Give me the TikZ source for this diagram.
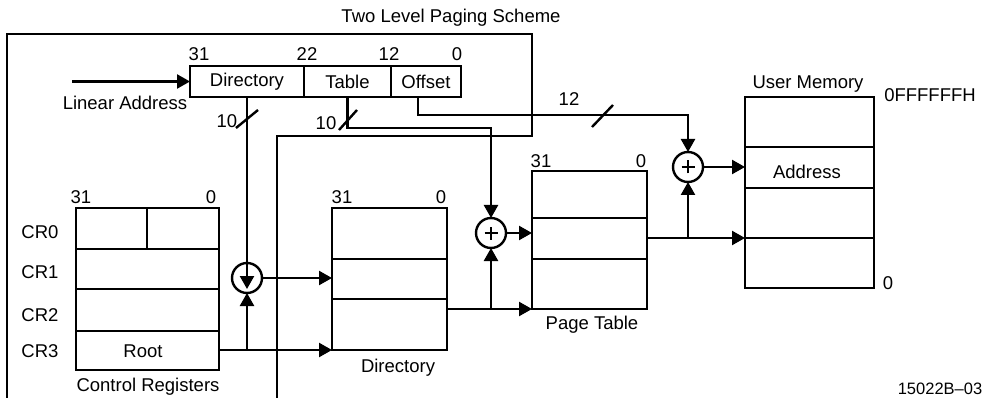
\documentclass[tikz,border=0pt]{standalone}
\usepackage{fontspec}
\setmainfont{Liberation Sans}
\usetikzlibrary{arrows.meta}
\begin{document}
\begin{tikzpicture}[x=1pt,y=-1pt,line width=2.4pt,
  every node/.style={font=\fontsize{18.5}{20}\selectfont,inner sep=0pt,outer sep=0pt},
  arr/.style={-{Triangle[length=13pt,width=14pt]}},
  box/.style={draw,minimum width=#1},
  adder/.style={draw,circle,minimum size=30pt},
  plus/.style={line width=1.9pt}]
\useasboundingbox (0,0) rectangle (982,398);
\fill[white] (0,0) rectangle (982,398);

% frame
\draw (7,398) -- (7,34) -- (532,34) -- (532,136) -- (277,136) -- (277,398);
\node at (451,18) {Two Level Paging Scheme};

% linear address fields
\node[box=114,minimum height=31pt] (dirf) at (247,81.5) {Directory};
\node[box=87,minimum height=31pt] (tabf) at (347.5,81.5) {Table};
\node[box=70,minimum height=31pt] (offf) at (426,81.5) {Offset};
\node at (199,54) {31};
\node at (307,54) {22};
\node at (389,54) {12};
\node at (457,54) {0};
\coordinate (la) at (72,81.5);
\draw[arr] (la) -- (dirf.west);
\node at (125,103) {Linear Address};

% control registers
\node[box=143,minimum height=162pt] (cr) at (147.5,289) {};
\draw (cr.west |- 0,249) -- (cr.east |- 0,249);
\draw (cr.west |- 0,289) -- (cr.east |- 0,289);
\draw (cr.west |- 0,331) -- (cr.east |- 0,331);
\draw (147,208) -- (147,249);
\node at (81,197) {31};
\node at (211,197) {0};
\node at (40,232) {CR0};
\node at (40,272) {CR1};
\node at (40,315) {CR2};
\node at (40,351) {CR3};
\node at (143,351) {Root};
\node at (148,387) {Control Registers};

% directory
\node[box=115,minimum height=142pt] (dir) at (389.5,279) {};
\draw (dir.west |- 0,259) -- (dir.east |- 0,259);
\draw (dir.west |- 0,299) -- (dir.east |- 0,299);
\node at (342,197) {31};
\node at (441,197) {0};
\node at (398,368) {Directory};

% page table
\node[box=115,minimum height=138pt] (pt) at (589.5,240) {};
\draw (pt.west |- 0,218) -- (pt.east |- 0,218);
\draw (pt.west |- 0,259) -- (pt.east |- 0,259);
\node at (541,161) {31};
\node at (641,161) {0};
\node at (592,325) {Page Table};

% user memory
\node[box=129,minimum height=191pt] (um) at (809.5,192.5) {};
\draw (um.west |- 0,147) -- (um.east |- 0,147);
\draw (um.west |- 0,188) -- (um.east |- 0,188);
\coordinate (umrow) at (745,238);
\draw (um.west |- 0,238) -- (um.east |- 0,238);
\node at (807,172) {Address};
\node at (808,84) {User Memory};
\node at (930,95) {0FFFFFFH};
\node at (888,283) {0};
\node[font=\fontsize{16.5}{18}\selectfont] at (940,389) {15022B--03};

% adders
\node[adder] (c1) at (247,278) {};
\node[adder] (c2) at (491,233) {};
\node[adder] (c3) at (688,167) {};
\draw[plus] ([xshift=-6.5pt]c2.center) -- ([xshift=6.5pt]c2.center);
\draw[plus] ([yshift=-6.5pt]c2.center) -- ([yshift=6.5pt]c2.center);
\draw[plus] ([xshift=-6.5pt]c3.center) -- ([xshift=6.5pt]c3.center);
\draw[plus] ([yshift=-6.5pt]c3.center) -- ([yshift=6.5pt]c3.center);

% connectors
\draw[arr] (dirf.south) -- ([yshift=-11pt]c1.center);
\draw[arr] (cr.east |- dir.south) -- (dir.south west);
\draw[arr] (c1 |- dir.south) -- (c1.south);
\draw[arr] (c1.east) -- (dir.west |- c1.east);

\draw[arr] (tabf.south) -- ++(0,31) -| (c2.north);
\draw[arr] (c2.east) -- (pt.west |- c2.east);
\draw[arr] (dir.east |- pt.south) -- (pt.south west);
\draw[arr] (c2 |- pt.south) -- (c2.south);

\draw[arr] ([xshift=-8pt]offf.south) -- ++(0,18) -| (c3.north);
\draw[arr] (c3.east) -- (um.west |- c3.east);
\draw[arr] (pt.east |- umrow) -- (umrow);
\draw[arr] (c3 |- umrow) -- (c3.south);

% bus width marks
\draw (236,128) -- (258,110);
\node at (227,121) {10};
\draw (339,130) -- (357,110);
\node at (326,123) {10};
\draw (592,127) -- (613,105);
\node at (569,99) {12};
\end{tikzpicture}
\end{document}
